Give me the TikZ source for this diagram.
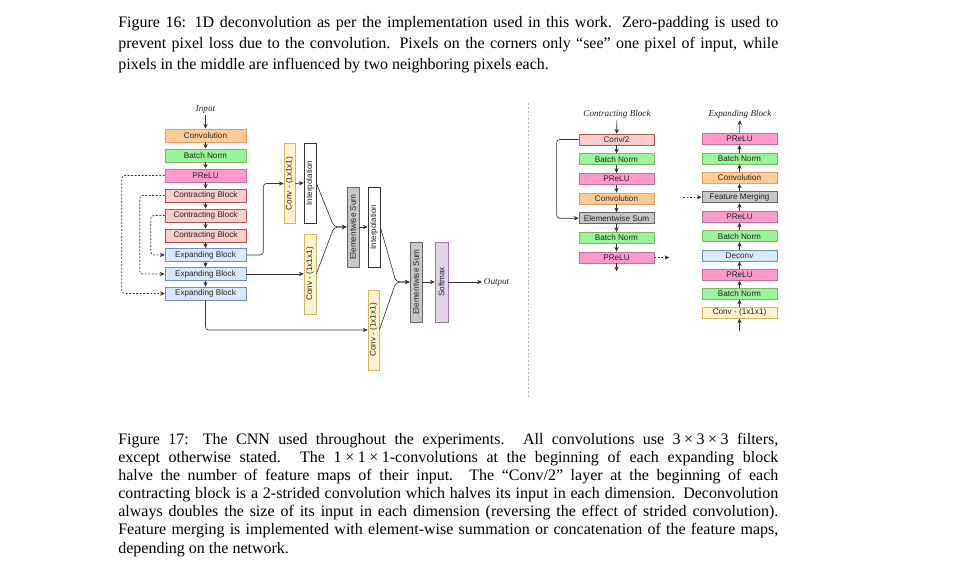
\documentclass[tikz,border=0pt]{standalone}
\usepackage{fontspec}
\setmainfont{Liberation Serif}
\newfontfamily\diafont{Liberation Sans}
\usepackage{tikz}
\usetikzlibrary{arrows.meta}

\definecolor{lnk}{HTML}{333333}
\definecolor{txt}{HTML}{222222}
\definecolor{orfill}{HTML}{FFCC99}
\definecolor{ordraw}{HTML}{E0A060}
\definecolor{gnfill}{HTML}{99F599}
\definecolor{gndraw}{HTML}{82B366}
\definecolor{pkfill}{HTML}{FF99CC}
\definecolor{pkdraw}{HTML}{B5739D}
\definecolor{rdfill}{HTML}{F8CECC}
\definecolor{rddraw}{HTML}{B85450}
\definecolor{blfill}{HTML}{DAE8FC}
\definecolor{bldraw}{HTML}{6C8EBF}
\definecolor{ylfill}{HTML}{FFF2CC}
\definecolor{yldraw}{HTML}{D6B656}
\definecolor{gyfill}{HTML}{C8C8C8}
\definecolor{gydraw}{HTML}{666666}
\definecolor{vifill}{HTML}{E1D5E7}
\definecolor{vidraw}{HTML}{9673A6}
\definecolor{sepline}{HTML}{BBBBBB}

\newcommand\tms{\kern0.22em×\kern0.22em}

\begin{document}
\begin{tikzpicture}[x=0.625pt,y=-0.625pt,line width=0.4pt,>={Stealth[length=3pt,width=2.7pt]}]
\tikzstyle{blk}=[draw,minimum width=50.6pt,minimum height=8.1pt,inner sep=0pt,text=txt,font=\diafont\fontsize{5.1}{6}\selectfont]
\tikzstyle{sml}=[blk,minimum width=46.9pt,minimum height=6.9pt]
\tikzstyle{vert}=[blk,rotate=90,minimum width=50pt,minimum height=7.5pt]
\tikzstyle{cnv}=[fill=orfill,draw=ordraw]
\tikzstyle{bnrm}=[fill=gnfill,draw=gndraw]
\tikzstyle{prl}=[fill=pkfill,draw=pkdraw]
\tikzstyle{ctr}=[fill=rdfill,draw=rddraw]
\tikzstyle{exp}=[fill=blfill,draw=bldraw]
\tikzstyle{one}=[fill=ylfill,draw=yldraw]
\tikzstyle{itp}=[fill=white,draw=lnk]
\tikzstyle{esum}=[fill=gyfill,draw=gydraw]
\tikzstyle{smax}=[fill=vifill,draw=vidraw]
\tikzstyle{link}=[->,draw=lnk]
\tikzstyle{skip}=[->,draw=lnk,dash pattern=on 1.2pt off 1pt]
\tikzstyle{title}=[inner sep=1pt,text=txt,font=\itshape\fontsize{5.7}{7}\selectfont]
\tikzstyle{capline}=[anchor=base west,inner sep=0pt,font=\fontsize{10}{12}\selectfont]

\useasboundingbox[fill=white] (0,0) rectangle (958,570);

% captions
\node[capline](c16a) at (118,27){\makebox[412.5pt][s]{Figure 16: 1D deconvolution as per the implementation used in this work. Zero-padding is used to}};
\node[capline](c16b) at (118,48){\makebox[412.5pt][s]{prevent pixel loss due to the convolution. Pixels on the corners only ``see'' one pixel of input, while}};
\node[capline](c16c) at (118,69){pixels in the middle are influenced by two neighboring pixels each.};

\node[capline](c17a) at (118,444){\makebox[412.5pt][s]{Figure 17: The CNN used throughout the experiments. All convolutions use 3\tms3\tms3 filters,}};
\node[capline](c17b) at (118,462.2){\makebox[412.5pt][s]{except otherwise stated. The 1\tms1\tms1-convolutions at the beginning of each expanding block}};
\node[capline](c17c) at (118,480.3){\makebox[412.5pt][s]{halve the number of feature maps of their input. The ``Conv/2'' layer at the beginning of each}};
\node[capline](c17d) at (118,498.5){\makebox[412.5pt][s]{contracting block is a 2-strided convolution which halves its input in each dimension. Deconvolution}};
\node[capline](c17e) at (118,516.7){\makebox[412.5pt][s]{always doubles the size of its input in each dimension (reversing the effect of strided convolution).}};
\node[capline](c17f) at (118,534.8){\makebox[412.5pt][s]{Feature merging is implemented with element-wise summation or concatenation of the feature maps,}};
\node[capline](c17g) at (118,553){depending on the network.};

% network
\node[title](inp) at (205.5,109){Input};
\node[blk,cnv](conv) at (205.5,135.5){Convolution};
\node[blk,bnrm](bn) at (205.5,155.5){Batch Norm};
\node[blk,prl](prelu) at (205.5,175.5){PReLU};
\node[blk,ctr](cb1) at (205.5,195.5){Contracting Block};
\node[blk,ctr](cb2) at (205.5,215.5){Contracting Block};
\node[blk,ctr](cb3) at (205.5,235.5){Contracting Block};
\node[blk,exp](eb1) at (205.5,255){Expanding Block};
\node[blk,exp](eb2) at (205.5,274){Expanding Block};
\node[blk,exp](eb3) at (205.5,293.5){Expanding Block};

\node[vert,one,minimum height=6.9pt](ca) at (289.5,183.5){Conv - (1x1x1)};
\node[vert,itp](ia) at (310,183){Interpolation};
\node[vert,one](cb) at (310,274){Conv - (1x1x1)};
\node[vert,esum](sa) at (353,227){Elementwise Sum};
\node[vert,itp](ib) at (374,227){Interpolation};
\node[vert,one,minimum height=6.9pt](cc) at (373.5,330){Conv - (1x1x1)};
\node[vert,esum](sb) at (416,282){Elementwise Sum};
\node[vert,smax,minimum height=8.1pt](sm) at (441.5,282){Softmax};
\node[title,anchor=west](outp) at (482,282){Output};

\coordinate(ma) at (334,227);
\coordinate(mb) at (396,282);

\draw[link] (inp) -- (conv);
\draw[link] (conv) -- (bn);
\draw[link] (bn) -- (prelu);
\draw[link] (prelu) -- (cb1);
\draw[link] (cb1) -- (cb2);
\draw[link] (cb2) -- (cb3);
\draw[link] (cb3) -- (eb1);
\draw[link] (eb1) -- (eb2);
\draw[link] (eb2) -- (eb3);

\draw[skip,rounded corners=2pt] (prelu.west) -- ++(-43,0) |- (eb3.west);
\draw[skip,rounded corners=2pt] (cb1.west) -- ++(-25,0) |- (eb2.west);
\draw[skip,rounded corners=2pt] (cb2.west) -- ++(-14,0) |- (eb1.west);

\draw[link,rounded corners=2pt] (eb1.east) -- ++(17,0) |- (ca.north);
\draw[link] (ca.south) -- (ia.north);
\draw[link] (eb2.east) -- (cb.north);
\draw[link,rounded corners=2.5pt] (ia.south) -- (ma) -- (sa.north);
\draw[link,rounded corners=2.5pt] (cb.south) -- (ma) -- (sa.north);
\draw[link] (sa.south) -- (ib.north);
\draw[link,rounded corners=2pt] (eb3.south) |- (cc.north);
\draw[link,rounded corners=2.5pt] (ib.south) -- (mb) -- (sb.north);
\draw[link,rounded corners=2.5pt] (cc.south) -- (mb) -- (sb.north);
\draw[link] (sb.south) -- (sm.north);
\draw[link] (sm.south) -- (outp.west);

% separator
\draw[sepline,dash pattern=on 1.2pt off 1.2pt] (528,103) -- (528,398);

% contracting block
\node[title](ctit) at (617,114){Contracting Block};
\node[sml,ctr](c1) at (616.5,139.5){Conv/2};
\node[sml,bnrm](c2) at (616.5,159.2){Batch Norm};
\node[sml,prl](c3) at (616.5,178.8){PReLU};
\node[sml,cnv](c4) at (616.5,198.5){Convolution};
\node[sml,esum](c5) at (616.5,218.2){Elementwise Sum};
\node[sml,bnrm](c6) at (616.5,237.8){Batch Norm};
\node[sml,prl](c7) at (616.5,257.5){PReLU};

\draw[link] (ctit) -- (c1);
\draw[link] (c1) -- (c2);
\draw[link] (c2) -- (c3);
\draw[link] (c3) -- (c4);
\draw[link] (c4) -- (c5);
\draw[link] (c5) -- (c6);
\draw[link] (c6) -- (c7);
\draw[link] (c7.south) -- ++(0,8);
\draw[link,rounded corners=2pt] (c1.west) -- ++(-22,0) |- (c5.west);
\draw[skip] (c7.east) -- ++(15,0);

% expanding block
\node[title](etit) at (740,114){Expanding Block};
\node[sml,prl](e1) at (739.5,139){PReLU};
\node[sml,bnrm](e2) at (739.5,158.4){Batch Norm};
\node[sml,cnv](e3) at (739.5,177.8){Convolution};
\node[sml,esum](e4) at (739.5,197.2){Feature Merging};
\node[sml,prl](e5) at (739.5,216.7){PReLU};
\node[sml,bnrm](e6) at (739.5,236.1){Batch Norm};
\node[sml,exp](e7) at (739.5,255.5){Deconv};
\node[sml,prl](e8) at (739.5,274.7){PReLU};
\node[sml,bnrm](e9) at (739.5,293.6){Batch Norm};
\node[sml,one](e10) at (739.5,312.5){Conv - (1x1x1)};
\coordinate(ein) at (739.5,331);
\coordinate(efm) at (683,197.2);

\draw[link] (ein) -- (e10);
\draw[link] (e10) -- (e9);
\draw[link] (e9) -- (e8);
\draw[link] (e8) -- (e7);
\draw[link] (e7) -- (e6);
\draw[link] (e6) -- (e5);
\draw[link] (e5) -- (e4);
\draw[link] (e4) -- (e3);
\draw[link] (e3) -- (e2);
\draw[link] (e2) -- (e1);
\draw[link] (e1) -- (etit);
\draw[skip] (efm) -- (e4.west);
\end{tikzpicture}
\end{document}
